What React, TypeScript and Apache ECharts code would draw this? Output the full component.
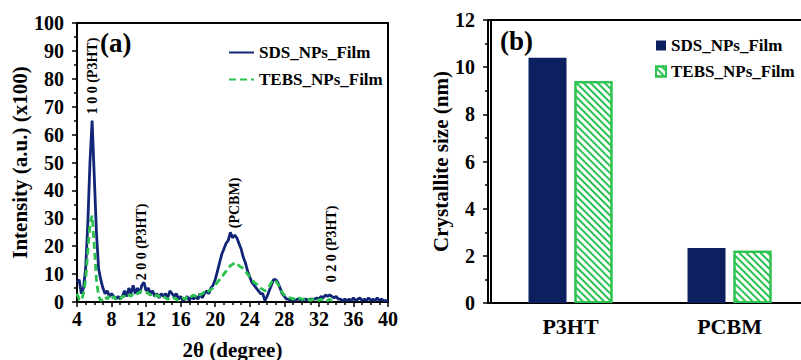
import React, { useEffect, useRef } from "react";
import * as echarts from "echarts";

const twoTheta = [
  4, 4.25, 4.5, 4.75, 5, 5.25, 5.5, 5.75, 6, 6.25, 6.5, 6.75, 7, 7.25, 7.5, 7.75, 8, 8.25, 8.5, 8.75,
  9, 9.25, 9.5, 9.75, 10, 10.25, 10.5, 10.75, 11, 11.25, 11.5, 11.75, 12, 12.25, 12.5, 12.75, 13, 13.25,
  13.5, 13.75, 14, 14.25, 14.5, 14.75, 15, 15.25, 15.5, 15.75, 16, 16.25, 16.5, 16.75, 17, 17.25, 17.5,
  17.75, 18, 18.25, 18.5, 18.75, 19, 19.25, 19.5, 19.75, 20, 20.25, 20.5, 20.75, 21, 21.25, 21.5, 21.75,
  22, 22.25, 22.5, 22.75, 23, 23.25, 23.5, 23.75, 24, 24.25, 24.5, 24.75, 25, 25.25, 25.5, 25.75, 26,
  26.25, 26.5, 26.75, 27, 27.25, 27.5, 27.75, 28, 28.25, 28.5, 28.75, 29, 29.25, 29.5, 29.75, 30, 30.25,
  30.5, 30.75, 31, 31.25, 31.5, 31.75, 32, 32.25, 32.5, 32.75, 33, 33.25, 33.5, 33.75, 34, 34.25, 34.5,
  34.75, 35, 35.25, 35.5, 35.75, 36, 36.25, 36.5, 36.75, 37, 37.25, 37.5, 37.75, 38, 38.25, 38.5, 38.75,
  39, 39.25, 39.5, 39.75, 40,
];

const sdsIntensity = [
  7, 8, 3, 5, 12, 28, 50, 65, 45, 25, 12, 8, 5, 3, 4, 2, 3, 2, 1, 2,
  1, 2, 4, 2, 5, 3, 6, 3, 5, 3, 6, 7, 4, 5, 3, 4, 2, 3, 1.5, 3,
  2, 3, 1.5, 4, 3, 2, 3, 1, 2, 0.5, 1, 2, 0.5, 2, 1, 2, 1, 3, 1.5, 3,
  4, 3, 5, 6, 8, 11, 14, 17, 19, 21, 22, 25, 23, 24, 23, 21, 19, 16, 14, 11,
  9, 7, 6, 5, 4, 3, 3, 0.5, 2, 4, 6, 8, 8, 7, 5, 3, 2, 1, 1, 0.5,
  1, 0.5, 1, 1, 0.5, 1, 1, 0.5, 1, 1, 1, 1.5, 1, 2, 1.5, 2.5, 2, 2.5, 2, 1.5,
  2, 1, 1, 0.5, 1, 0.5, 1, 0.5, 1.5, 0.5, 1, 1.5, 0.5, 1, 0.5, 1.5, 0.5, 1, 0.5, 1.5,
  0.5, 1, 0.5, 0.5, 0.5,
];

const tebsIntensity = [
  3, 1, 0.5, 3, 8, 18, 28, 31, 20, 8, 2, 0.5, 1, 2, 1, 2, 1, 2, 1, 1.5,
  1, 2, 2, 1.5, 2.5, 2, 3, 2.5, 3, 3.5, 4, 4, 3.5, 3, 2.5, 3, 2, 2.5, 2, 1.5,
  2, 1.5, 1, 1.5, 1, 1.5, 1, 0.5, 1, 1.5, 1, 2, 1.5, 2, 2.5, 2, 3, 2.5, 3, 3.5,
  3, 4, 4.5, 5, 6, 7, 8, 9, 10, 11, 12, 13, 13.5, 14, 14, 13, 12.5, 12, 11, 10,
  9, 8, 7, 6.5, 6, 5, 4.5, 4, 4.5, 5.5, 7, 8, 7.5, 6.5, 5, 3.5, 2.5, 2, 1.5, 1.5,
  1, 1.5, 1, 1.5, 1, 1, 0.5, 1, 0.5, 1, 0.5, 1, 0.5, 1, 0.5, 1, 0.5, 1, 0.5, 0.5,
  0.5,
];

const xrdTicks = { min: 4, max: 40, interval: 4 };
const intensityTicks = { min: 0, max: 100, interval: 10 };
const sizeTicks = { min: 0, max: 12, interval: 2 };

const peakLabels = [
  { text: "1 0 0 (P3HT)", at: [5.85, 81] },
  { text: "2 0 0 (P3HT)", at: [11.5, 21.5] },
  { text: "(PCBM)", at: [22.2, 35.5] },
  { text: "0 2 0 (P3HT)", at: [33.5, 20.8] },
];

const phases = ["P3HT", "PCBM"];
const sdsSize = [10.4, 2.33];
const tebsSize = [9.4, 2.22];

const seriesNames = ["SDS_NPs_Film", "TEBS_NPs_Film"];

const FONT = "Liberation Serif";
const NAVY_LINE = "#112676";
const NAVY_BAR = "#0c1f5e";
const GREEN = "#2bc24f";

export default function App() {
  const ref = useRef<HTMLDivElement>(null);

  useEffect(() => {
    if (!ref.current) return;
    const chart = echarts.init(ref.current, null, { renderer: "svg" });

    const axisLine = { show: true, lineStyle: { color: "#000", width: 2 } };
    const tickLabel = (size: number, margin: number) => ({
      color: "#000",
      fontSize: size,
      fontWeight: "bold",
      fontFamily: FONT,
      margin,
    });
    const nameStyle = { color: "#000", fontSize: 21, fontWeight: "bold", fontFamily: FONT };
    const legendText = { color: "#000", fontSize: 17, fontWeight: "bold", fontFamily: FONT };

    const option: any = {
      animation: false,
      backgroundColor: "#fff",
      textStyle: { fontFamily: FONT },
      grid: [
        {
          left: 77, top: 23, width: 311, height: 279,
          outerBoundsMode: "none", containLabel: false,
          show: true, borderColor: "#000", borderWidth: 2,
        },
        {
          left: 491, top: 20, width: 318, height: 283,
          outerBoundsMode: "none", containLabel: false,
          show: true, borderColor: "#000", borderWidth: 2,
        },
      ],
      xAxis: [
        {
          type: "value",
          gridIndex: 0,
          ...xrdTicks,
          axisLine,
          axisTick: { show: true, length: 5, lineStyle: { color: "#000", width: 1.5 } },
          minorTick: { show: true, splitNumber: 4, length: 3, lineStyle: { color: "#000", width: 1.5 } },
          splitLine: { show: false },
          minorSplitLine: { show: false },
          axisLabel: tickLabel(20, 7),
          name: "2θ (degree)",
          nameLocation: "middle",
          nameGap: 37,
          nameTextStyle: nameStyle,
        },
        {
          type: "category",
          gridIndex: 1,
          data: phases,
          axisLine,
          axisTick: { show: false },
          splitLine: { show: false },
          axisLabel: tickLabel(22, 12),
        },
      ],
      yAxis: [
        {
          type: "value",
          gridIndex: 0,
          ...intensityTicks,
          axisLine,
          axisTick: { show: true, length: 5, lineStyle: { color: "#000", width: 1.5 } },
          minorTick: { show: true, splitNumber: 2, length: 3, lineStyle: { color: "#000", width: 1.5 } },
          splitLine: { show: false },
          minorSplitLine: { show: false },
          axisLabel: tickLabel(20, 13),
          name: "Intensity (a.u.) (x100)",
          nameLocation: "middle",
          nameGap: 46,
          nameTextStyle: nameStyle,
        },
        {
          type: "value",
          gridIndex: 1,
          offset: 3,
          ...sizeTicks,
          axisLine,
          axisTick: { show: true, length: 5, lineStyle: { color: "#000", width: 1.5 } },
          minorTick: { show: true, splitNumber: 2, length: 3, lineStyle: { color: "#000", width: 1.5 } },
          splitLine: { show: false },
          minorSplitLine: { show: false },
          axisLabel: tickLabel(20, 13),
          name: "Crystallite size (nm)",
          nameLocation: "middle",
          nameGap: 35,
          nameTextStyle: nameStyle,
        },
      ],
      legend: [
        {
          data: seriesNames,
          orient: "vertical",
          left: 223,
          top: 39,
          itemWidth: 25,
          itemHeight: 14,
          itemGap: 10,
          itemStyle: { color: "transparent", borderWidth: 0, opacity: 0 },
          textStyle: legendText,
        },
        {
          data: seriesNames.map((n) => n + " (b)"),
          orient: "vertical",
          left: 650,
          top: 32,
          icon: "rect",
          itemWidth: 10,
          itemHeight: 10,
          itemGap: 9,
          formatter: (n: string) => n.replace(" (b)", ""),
          textStyle: legendText,
        },
      ],
      graphic: [
        { type: "text", left: 100, top: 29, style: { text: "(a)", font: `bold 27px ${FONT}`, fill: "#000" } },
        { type: "text", left: 500, top: 27, style: { text: "(b)", font: `bold 27px ${FONT}`, fill: "#000" } },
        { type: "line", shape: { x1: 487, y1: 303, x2: 492, y2: 303 }, style: { stroke: "#000", lineWidth: 2 } },
        { type: "line", shape: { x1: 487, y1: 20, x2: 492, y2: 20 }, style: { stroke: "#000", lineWidth: 2 } },
      ],
      series: [
        {
          name: seriesNames[0],
          type: "line",
          xAxisIndex: 0,
          yAxisIndex: 0,
          symbol: "none",
          showSymbol: false,
          lineStyle: { color: NAVY_LINE, width: 2.8 },
          itemStyle: { color: NAVY_LINE },
          data: twoTheta.map((x, i) => [x, sdsIntensity[i]]),
          markPoint: {
            symbol: "circle",
            symbolSize: 0,
            silent: true,
            label: {
              show: true,
              rotate: 90,
              position: "inside",
              color: "#000",
              fontSize: 14,
              fontWeight: "bold",
              fontFamily: FONT,
            },
            data: peakLabels.map((p) => ({
              name: p.text,
              coord: p.at,
              value: p.text,
              label: { formatter: p.text },
            })),
          },
        },
        {
          name: seriesNames[1],
          type: "line",
          xAxisIndex: 0,
          yAxisIndex: 0,
          symbol: "none",
          showSymbol: false,
          lineStyle: { color: GREEN, width: 2.8, type: [7, 4] },
          itemStyle: { color: GREEN },
          data: tebsIntensity.map((y, i) => [twoTheta[i], y]),
        },
        {
          name: seriesNames[0] + " (b)",
          type: "bar",
          xAxisIndex: 1,
          yAxisIndex: 1,
          barWidth: 38,
          barGap: "21%",
          itemStyle: { color: NAVY_BAR },
          data: sdsSize,
        },
        {
          name: seriesNames[1] + " (b)",
          type: "bar",
          xAxisIndex: 1,
          yAxisIndex: 1,
          barWidth: 38,
          barGap: "21%",
          itemStyle: {
            color: "#fff",
            borderColor: GREEN,
            borderWidth: 2,
            decal: {
              symbol: "rect",
              symbolSize: 1,
              color: GREEN,
              backgroundColor: "#fff",
              dashArrayX: [1, 0],
              dashArrayY: [2, 3],
              rotation: Math.PI / 4,
            },
          },
          data: tebsSize,
        },
      ],
    };

    chart.setOption(option);
    return () => chart.dispose();
  }, []);

  return (
    <div
      ref={ref}
      style={{ position: "absolute", left: 0, top: 0, width: 801, height: 360 }}
    />
  );
}
